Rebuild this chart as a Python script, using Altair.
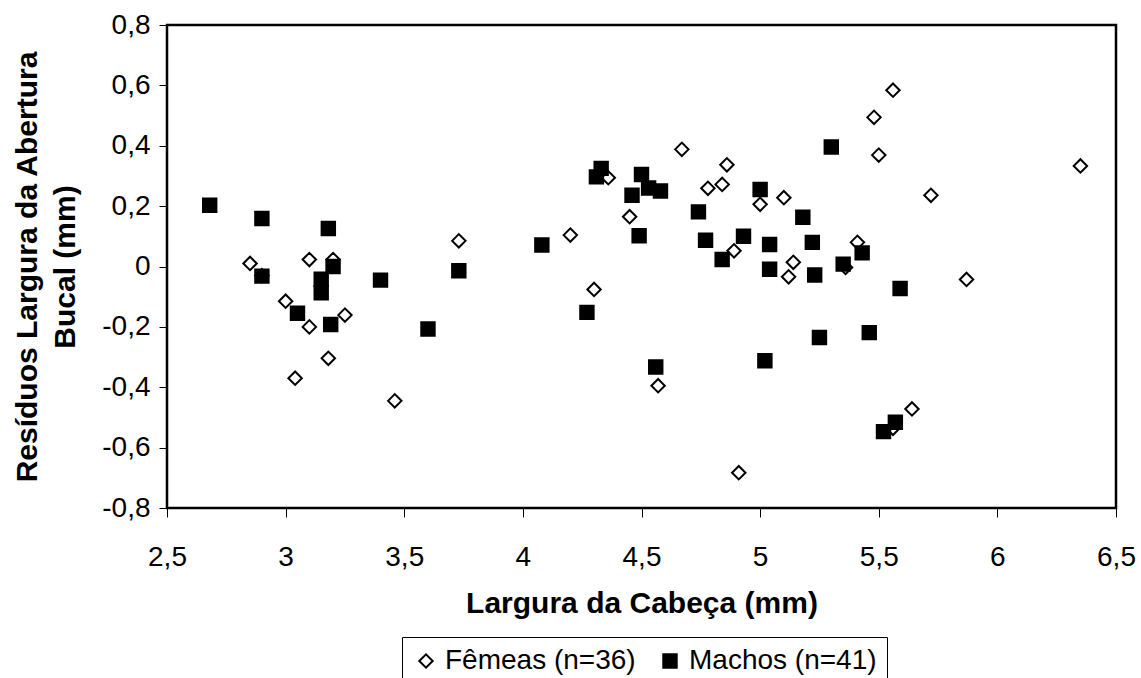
import altair as alt
import pandas as pd

series = ["Fêmeas (n=36)", "Machos (n=41)"]

females_x = [2.85, 2.90, 3.00, 3.04, 3.10, 3.10, 3.18, 3.20, 3.25, 3.46,
             3.73, 4.20, 4.30, 4.36, 4.45, 4.57, 4.67, 4.78, 4.84, 4.86,
             4.89, 4.91, 5.00, 5.10, 5.12, 5.14, 5.36, 5.41, 5.48, 5.50,
             5.56, 5.56, 5.64, 5.72, 5.87, 6.35]
females_y = [0.010, -0.030, -0.115, -0.370, 0.023, -0.200, -0.304, 0.023, -0.161, -0.445,
             0.085, 0.104, -0.076, 0.294, 0.165, -0.395, 0.388, 0.259, 0.272, 0.337,
             0.052, -0.683, 0.206, 0.228, -0.034, 0.014, -0.003, 0.080, 0.494, 0.369,
             -0.536, 0.584, -0.472, 0.236, -0.043, 0.333]

males_x = [2.68, 2.90, 2.90, 3.05, 3.15, 3.15, 3.18, 3.19, 3.20, 3.40,
           3.60, 3.73, 4.08, 4.27, 4.31, 4.33, 4.46, 4.49, 4.50, 4.53,
           4.56, 4.58, 4.74, 4.77, 4.84, 4.93, 5.00, 5.02, 5.04, 5.04,
           5.18, 5.22, 5.23, 5.25, 5.30, 5.35, 5.43, 5.46, 5.52, 5.57, 5.59]
males_y = [0.203, 0.159, -0.032, -0.155, -0.042, -0.087, 0.126, -0.192, 0.000, -0.045,
           -0.207, -0.014, 0.071, -0.152, 0.297, 0.325, 0.236, 0.102, 0.305, 0.260,
           -0.333, 0.250, 0.181, 0.087, 0.023, 0.100, 0.255, -0.312, 0.073, -0.009,
           0.163, 0.080, -0.028, -0.235, 0.396, 0.008, 0.045, -0.219, -0.547, -0.516, -0.073]

x_ticks = [2.5, 3, 3.5, 4, 4.5, 5, 5.5, 6, 6.5]
y_ticks = [-0.8, -0.6, -0.4, -0.2, 0, 0.2, 0.4, 0.6, 0.8]

df = pd.DataFrame({
    "x": females_x + males_x,
    "y": females_y + males_y,
    "serie": [series[0]] * len(females_x) + [series[1]] * len(males_x),
})

W, H = 949, 483
FONT = "Liberation Sans"
label_expr = "replace(toString(datum.value), '.', ',')"

leg = alt.Legend(
    title=None, orient="none", legendX=235, legendY=612, direction="horizontal",
    strokeColor="black", fillColor="white", padding=10,
    labelFont=FONT, labelFontSize=28, labelColor="black", labelOffset=5, labelLimit=600,
    columnPadding=20, symbolSize=180, symbolStrokeWidth=2,
)

chart = alt.Chart(df).mark_point(filled=True, size=180, strokeWidth=2, opacity=1).encode(
    x=alt.X("x:Q",
            scale=alt.Scale(domain=[2.5, 6.5], nice=False, zero=False),
            axis=alt.Axis(values=x_ticks, title="Largura da Cabeça (mm)", labelExpr=label_expr,
                          tickSize=9, labelPadding=26, labelFlush=False, labelOverlap=False,
                          titleX=W / 2, titleY=80, titleBaseline="top", titleAlign="center")),
    y=alt.Y("y:Q",
            scale=alt.Scale(domain=[-0.8, 0.8], nice=False, zero=False),
            axis=alt.Axis(values=y_ticks, title=["Resíduos Largura da Abertura", "Bucal (mm)"],
                          labelExpr=label_expr, tickSize=8, labelPadding=9, labelFlush=False,
                          labelOverlap=False, titleX=-155, titleY=H / 2, titleAngle=270,
                          titleBaseline="top", titleAlign="center", titleLineHeight=38)),
    shape=alt.Shape("serie:N", scale=alt.Scale(domain=series, range=["diamond", "square"]), legend=leg),
    fill=alt.Fill("serie:N", scale=alt.Scale(domain=series, range=["white", "black"]), legend=leg),
    stroke=alt.Stroke("serie:N", scale=alt.Scale(domain=series, range=["black", "black"]), legend=leg),
).properties(
    width=W, height=H,
    autosize=alt.AutoSizeParams(type="none"),
    padding={"left": 167, "top": 25, "right": 25, "bottom": 170},
    background="white",
).configure_view(
    stroke="black", strokeWidth=2.5
).configure_axis(
    grid=False, domain=False, tickColor="black", tickWidth=1,
    labelFont=FONT, labelFontSize=28, labelColor="black",
    titleFont=FONT, titleFontSize=30, titleFontWeight="bold", titleColor="black",
)

chart.save("out.html", embed_options={"renderer": "svg", "actions": False})
